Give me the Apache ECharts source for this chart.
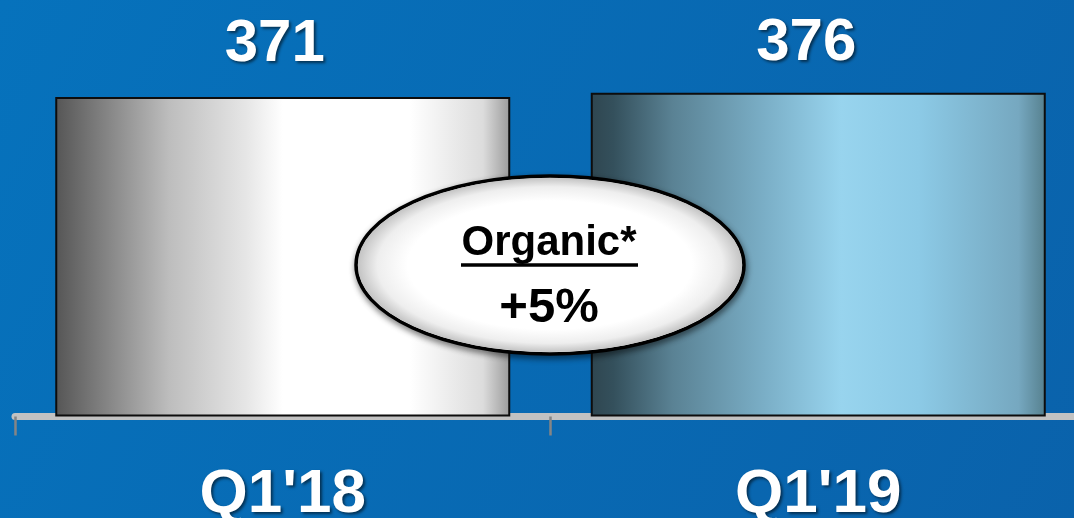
<!DOCTYPE html>
<html>
<head>
<meta charset="utf-8">
<title>Q1 revenue</title>
<script src="https://cdn.jsdelivr.net/npm/echarts@6/dist/echarts.min.js"></script>
<style>
  html, body { margin: 0; padding: 0; background: #0770b8; }
  #chart { width: 1074px; height: 518px; }
</style>
</head>
<body>
<div id="chart"></div>
<script>
// Quarterly values
const categories = ["Q1'18", "Q1'19"];
const revenue = [371, 376];
const organicTitle = 'Organic*';
const organicGrowth = '+5%';

const FONT = '"Liberation Sans", Arial, sans-serif';

// Horizontal shading of each bar
const barFills = [
  { type: 'linear', x: 0, y: 0, x2: 1, y2: 0, colorStops: [
    { offset: 0.00, color: '#555555' },
    { offset: 0.05, color: '#6a6a6a' },
    { offset: 0.25, color: '#bdbdbd' },
    { offset: 0.42, color: '#e6e6e6' },
    { offset: 0.50, color: '#ffffff' },
    { offset: 0.78, color: '#ffffff' },
    { offset: 0.94, color: '#dcdcdc' },
    { offset: 1.00, color: '#9a9a9a' }
  ]},
  { type: 'linear', x: 0, y: 0, x2: 1, y2: 0, colorStops: [
    { offset: 0.00, color: '#2f4650' },
    { offset: 0.05, color: '#34505c' },
    { offset: 0.18, color: '#5a8294' },
    { offset: 0.38, color: '#7aaec6' },
    { offset: 0.55, color: '#98d4ee' },
    { offset: 0.72, color: '#8ccae6' },
    { offset: 0.94, color: '#76a8c0' },
    { offset: 1.00, color: '#56808e' }
  ]}
];
// Value labels share one baseline above the bars
const labelOffsets = [[-8, 0], [-12, 0]];
const labelDistances = [23, 19];

const textShadow = {
  textShadowColor: 'rgba(0,0,0,0.55)',
  textShadowBlur: 3,
  textShadowOffsetX: 2,
  textShadowOffsetY: 2
};

const chart = echarts.init(document.getElementById('chart'), null, { renderer: 'canvas' });

const option = {
  backgroundColor: {
    type: 'linear', x: 0, y: 0, x2: 1, y2: 1,
    colorStops: [
      { offset: 0, color: '#0672bc' },
      { offset: 1, color: '#0a62ab' }
    ]
  },
  animation: false,
  grid: {
    left: 15, top: 72, width: 1071, bottom: 101.5,
    containLabel: false,
    outerBoundsMode: 'none'
  },
  xAxis: {
    type: 'category',
    data: categories,
    axisLine: { show: true, lineStyle: { color: '#c2c2c2', width: 7 } },
    axisTick: { show: true, length: 19, lineStyle: { color: '#858585', width: 2.5 } },
    axisLabel: {
      color: '#ffffff',
      fontFamily: FONT,
      fontWeight: 'bold',
      fontSize: 62,
      margin: 47,
      ...textShadow
    }
  },
  yAxis: {
    type: 'value',
    min: 0,
    max: 400,
    show: false,
    splitLine: { show: false }
  },
  series: [{
    type: 'bar',
    barWidth: 455,
    data: revenue.map((v, i) => ({
      value: v,
      itemStyle: { color: barFills[i] },
      label: { offset: labelOffsets[i], distance: labelDistances[i] }
    })),
    itemStyle: { borderColor: '#0d0d0d', borderWidth: 2 },
    label: {
      show: true,
      position: 'top',
      color: '#ffffff',
      fontFamily: FONT,
      fontWeight: 'bold',
      fontSize: 60,
      ...textShadow
    },
    z: 1
  }],
  graphic: {
    elements: [
      {
        type: 'ellipse',
        z: 100,
        shape: { cx: 550, cy: 265, rx: 194, ry: 89 },
        style: {
          fill: '#ffffff',
          stroke: '#000000',
          lineWidth: 3.5,
          shadowColor: 'rgba(0,0,0,0.45)',
          shadowBlur: 6,
          shadowOffsetX: 1,
          shadowOffsetY: 3
        }
      },
      {
        type: 'circle',
        z: 101,
        x: 550, y: 265,
        scaleX: 192 / 87,
        scaleY: 1,
        shape: { cx: 0, cy: 0, r: 87 },
        style: {
          fill: {
            type: 'radial', x: 0.5, y: 0.5, r: 0.5,
            colorStops: [
              { offset: 0, color: '#ffffff' },
              { offset: 0.74, color: '#ffffff' },
              { offset: 0.9, color: '#eeeeee' },
              { offset: 1, color: '#c4c4c4' }
            ]
          }
        }
      },
      {
        type: 'text',
        z: 102,
        style: {
          text: organicTitle,
          x: 549, y: 243,
          fill: '#000000',
          font: 'bold 42px ' + FONT,
          textAlign: 'center',
          textVerticalAlign: 'middle'
        }
      },
      {
        type: 'line',
        z: 102,
        shape: { x1: 461, y1: 265, x2: 638, y2: 265 },
        style: { stroke: '#000000', lineWidth: 3.5 }
      },
      {
        type: 'text',
        z: 102,
        style: {
          text: organicGrowth,
          x: 549, y: 308,
          fill: '#000000',
          font: 'bold 49px ' + FONT,
          textAlign: 'center',
          textVerticalAlign: 'middle'
        }
      }
    ]
  }
};

chart.setOption(option);
</script>
</body>
</html>
